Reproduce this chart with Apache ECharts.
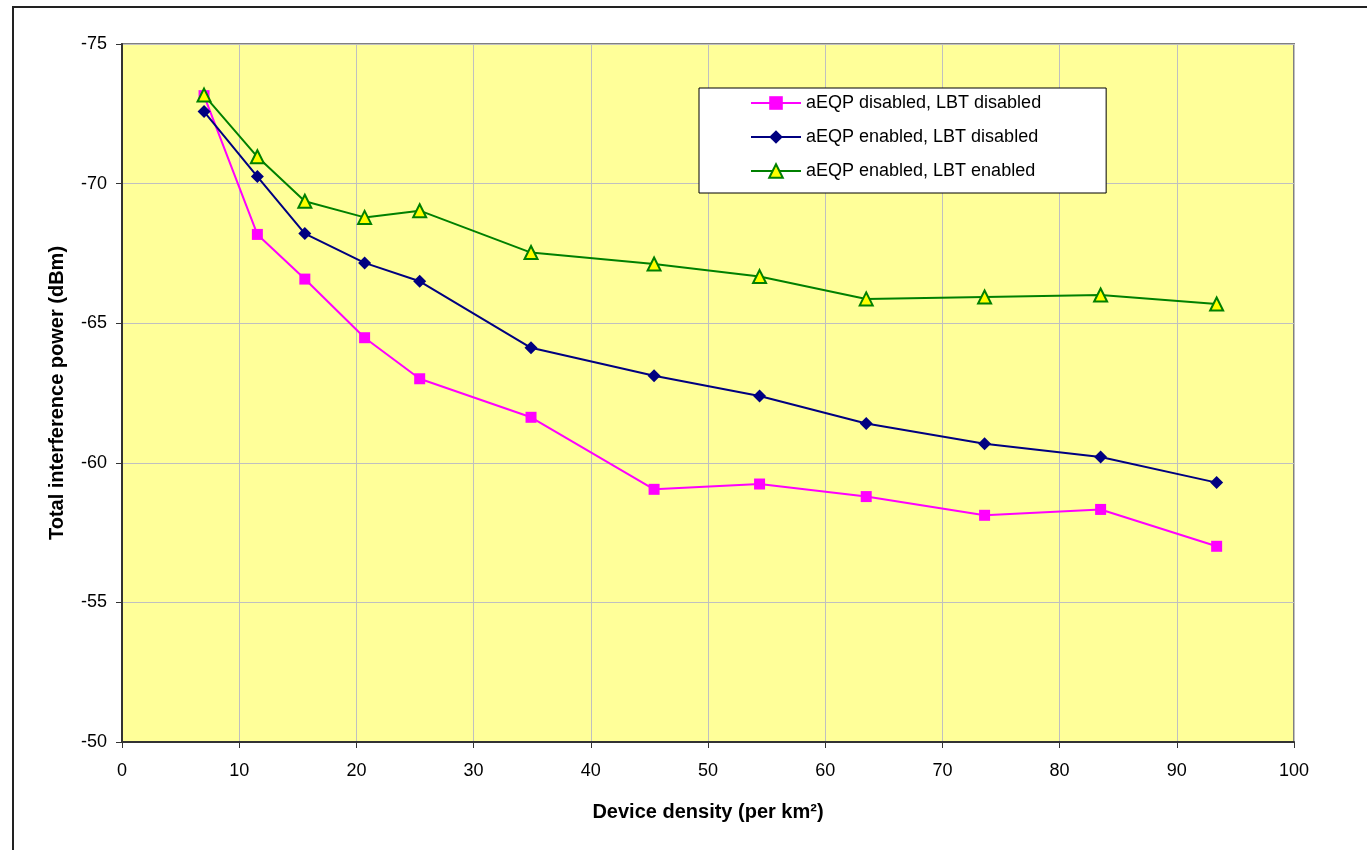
<!DOCTYPE html>
<html>
<head>
<meta charset="utf-8">
<script src="https://cdn.jsdelivr.net/npm/echarts@6/dist/echarts.min.js"></script>
<style>
html,body{margin:0;padding:0;background:#fff;}
#chart{width:1367px;height:850px;}
</style>
</head>
<body>
<div id="chart"></div>
<script>
const density = [7.0, 11.55, 15.6, 20.7, 25.4, 34.9, 45.4, 54.4, 63.5, 73.6, 83.5, 93.4];
const seriesNames = ['aEQP disabled, LBT disabled', 'aEQP enabled, LBT disabled', 'aEQP enabled, LBT enabled'];
const bothDisabled = [-73.15, -68.18, -66.58, -64.48, -63.01, -61.63, -59.05, -59.24, -58.79, -58.12, -58.33, -57.01];
const aeqpOnly = [-72.58, -70.25, -68.21, -67.16, -66.50, -64.12, -63.12, -62.39, -61.41, -60.68, -60.21, -59.29];
const bothEnabled = [-73.17, -70.96, -69.37, -68.79, -69.03, -67.53, -67.12, -66.67, -65.87, -65.94, -66.01, -65.69];

const pairs = ys => density.map((x, i) => [x, ys[i]]);
const font = 'Liberation Sans, Arial, sans-serif';

const chart = echarts.init(document.getElementById('chart'));
chart.setOption({
  animation: false,
  backgroundColor: '#ffffff',
  graphic: [{
    type: 'rect', z: -10,
    shape: {x: 13, y: 7, width: 1400, height: 900},
    style: {fill: 'none', stroke: '#222', lineWidth: 2}
  }],
  grid: {
    left: 122, top: 44, right: 73, bottom: 108,
    show: true, backgroundColor: '#FFFF99', borderColor: '#808080', borderWidth: 2
  },
  legend: {
    orient: 'vertical', left: 699, top: 88,
    backgroundColor: '#ffffff', borderColor: '#000', borderWidth: 1,
    padding: [6, 65, 13, 51], itemWidth: 50, itemHeight: 17, itemGap: 16,
    textStyle: {fontFamily: font, fontSize: 18, color: '#000'},
    data: seriesNames
  },
  xAxis: {
    type: 'value', min: 0, max: 100, interval: 10,
    name: 'Device density (per km²)', nameLocation: 'middle', nameGap: 60,
    nameTextStyle: {fontFamily: font, fontSize: 20, fontWeight: 'bold', color: '#000'},
    axisLine: {show: true, lineStyle: {color: '#333', width: 2}},
    axisTick: {show: true, length: 6, lineStyle: {color: '#333'}},
    axisLabel: {fontFamily: font, fontSize: 18, color: '#000', margin: 20},
    splitLine: {show: true, lineStyle: {color: '#c0c0c0', width: 1}}
  },
  yAxis: {
    type: 'value', min: -75, max: -50, interval: 5, inverse: true,
    name: 'Total interference power (dBm)', nameLocation: 'middle', nameGap: 55,
    nameTextStyle: {fontFamily: font, fontSize: 20, fontWeight: 'bold', color: '#000'},
    axisLine: {show: true, lineStyle: {color: '#333', width: 2}},
    axisTick: {show: true, length: 6, lineStyle: {color: '#333'}},
    axisLabel: {fontFamily: font, fontSize: 18, color: '#000', margin: 15},
    splitLine: {show: true, lineStyle: {color: '#c0c0c0', width: 1}}
  },
  series: [
    {
      name: seriesNames[0], type: 'line', data: pairs(bothDisabled),
      symbol: 'rect', symbolSize: 11,
      lineStyle: {color: '#FF00FF', width: 2},
      itemStyle: {color: '#FF00FF'}, z: 3
    },
    {
      name: seriesNames[1], type: 'line', data: pairs(aeqpOnly),
      symbol: 'diamond', symbolSize: 13,
      lineStyle: {color: '#000080', width: 2},
      itemStyle: {color: '#000080'}, z: 4
    },
    {
      name: seriesNames[2], type: 'line', data: pairs(bothEnabled),
      symbol: 'triangle', symbolSize: 13,
      lineStyle: {color: '#008000', width: 2},
      itemStyle: {color: '#FFFF00', borderColor: '#008000', borderWidth: 2}, z: 5
    }
  ]
});
</script>
</body>
</html>
